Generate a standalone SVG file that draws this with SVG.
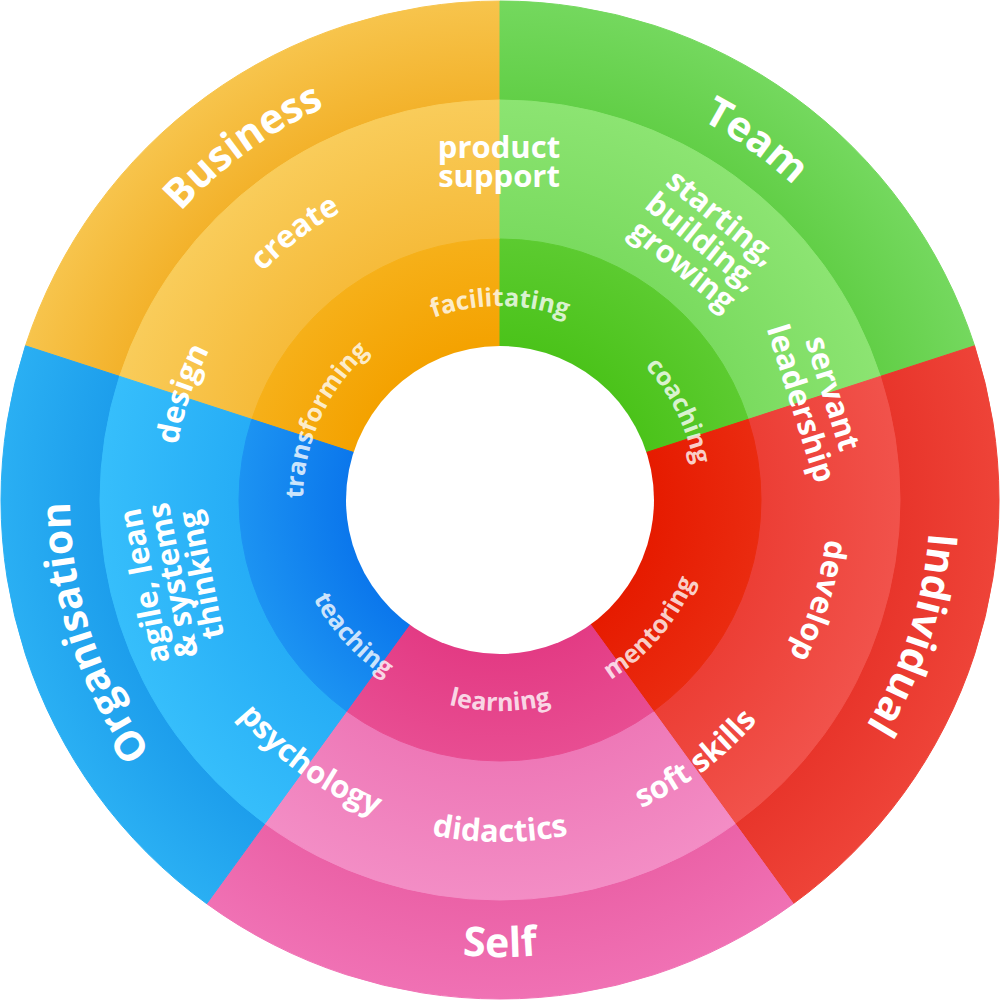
<svg xmlns="http://www.w3.org/2000/svg" width="1000" height="1000" viewBox="0 0 1000 1000">
<defs>
<style>
.o{font-family:"Open Sans","Liberation Sans",sans-serif;font-weight:700;font-size:41px;fill:#fff;text-anchor:middle}
.m{font-family:"Open Sans","Liberation Sans",sans-serif;font-weight:700;font-size:31px;fill:#fff;text-anchor:middle}
.i{font-family:"Open Sans","Liberation Sans",sans-serif;font-weight:700;font-size:25px;fill:#fff;fill-opacity:.8;text-anchor:middle}
</style>
<radialGradient id="bo" gradientUnits="userSpaceOnUse" cx="500" cy="500" r="499"><stop offset=".8016" stop-color="#F3B22B"/><stop offset="1" stop-color="#F7C44C"/></radialGradient>
<radialGradient id="bm" gradientUnits="userSpaceOnUse" cx="500" cy="500" r="499"><stop offset=".523" stop-color="#F6BB3A"/><stop offset=".8016" stop-color="#F9CC5A"/></radialGradient>
<radialGradient id="bi" gradientUnits="userSpaceOnUse" cx="500" cy="500" r="499"><stop offset=".3086" stop-color="#F4A200"/><stop offset=".523" stop-color="#F6B019"/></radialGradient>
<radialGradient id="to" gradientUnits="userSpaceOnUse" cx="500" cy="500" r="499"><stop offset=".8016" stop-color="#62CF47"/><stop offset="1" stop-color="#74D85E"/></radialGradient>
<radialGradient id="tm" gradientUnits="userSpaceOnUse" cx="500" cy="500" r="499"><stop offset=".523" stop-color="#7ADB5F"/><stop offset=".8016" stop-color="#8CE472"/></radialGradient>
<radialGradient id="ti" gradientUnits="userSpaceOnUse" cx="500" cy="500" r="499"><stop offset=".3086" stop-color="#4BC31A"/><stop offset=".523" stop-color="#5CCB30"/></radialGradient>
<radialGradient id="io" gradientUnits="userSpaceOnUse" cx="500" cy="500" r="499"><stop offset=".8016" stop-color="#E8352B"/><stop offset="1" stop-color="#EE4338"/></radialGradient>
<radialGradient id="im" gradientUnits="userSpaceOnUse" cx="500" cy="500" r="499"><stop offset=".523" stop-color="#EC3E35"/><stop offset=".8016" stop-color="#F1524B"/></radialGradient>
<radialGradient id="ii" gradientUnits="userSpaceOnUse" cx="500" cy="500" r="499"><stop offset=".3086" stop-color="#E61B00"/><stop offset=".523" stop-color="#EA2B10"/></radialGradient>
<radialGradient id="so" gradientUnits="userSpaceOnUse" cx="500" cy="500" r="499"><stop offset=".8016" stop-color="#EB62A7"/><stop offset="1" stop-color="#F071B4"/></radialGradient>
<radialGradient id="sm" gradientUnits="userSpaceOnUse" cx="500" cy="500" r="499"><stop offset=".523" stop-color="#EE78B7"/><stop offset=".8016" stop-color="#F38DC5"/></radialGradient>
<radialGradient id="si" gradientUnits="userSpaceOnUse" cx="500" cy="500" r="499"><stop offset=".3086" stop-color="#E33B84"/><stop offset=".523" stop-color="#E84D92"/></radialGradient>
<radialGradient id="go" gradientUnits="userSpaceOnUse" cx="500" cy="500" r="499"><stop offset=".8016" stop-color="#1D9EEC"/><stop offset="1" stop-color="#2AAFF3"/></radialGradient>
<radialGradient id="gm" gradientUnits="userSpaceOnUse" cx="500" cy="500" r="499"><stop offset=".523" stop-color="#26ADF6"/><stop offset=".8016" stop-color="#36BEFB"/></radialGradient>
<radialGradient id="gi" gradientUnits="userSpaceOnUse" cx="500" cy="500" r="499"><stop offset=".3086" stop-color="#0B77EC"/><stop offset=".523" stop-color="#1C93F2"/></radialGradient>
<path id="pBusiness" d="M71.05,470.0 A430,430 0 0 1 604.03,82.77"/>
<path id="pTeam" d="M392.34,83.70 A430,430 0 0 1 928.67,466.26"/>
<path id="pIndividual" d="M864.66,272.14 A430,430 0 0 1 661.08,898.69"/>
<path id="pSelf" d="M149.92,793.75 A457,457 0 0 0 850.08,793.75"/>
<path id="pOrg" d="M338.92,898.69 A430,430 0 0 1 135.34,272.14"/>
<path id="pCreate" d="M171.31,485.65 A329,329 0 0 1 571.21,178.80"/>
<path id="pDesign" d="M221.19,670.86 A327,327 0 0 1 380.15,195.75"/>
<path id="pDevelop" d="M776.63,323.77 A328,328 0 0 1 625.52,803.03"/>
<path id="pSoft" d="M423.74,830.31 A339,339 0 0 0 838.54,517.74"/>
<path id="pDidactics" d="M238.01,719.83 A342,342 0 0 0 761.99,719.83"/>
<path id="pPsych" d="M161.83,523.65 A339,339 0 0 0 582.01,828.93"/>
<path id="pFac" d="M351.39,375.30 A194,194 0 0 1 648.61,375.30"/>
<path id="pCoach" d="M545.99,308.44 A197,197 0 0 1 680.66,578.55"/>
<path id="pMentor" d="M498.16,710.99 A211,211 0 0 0 708.11,465.17"/>
<path id="pLearn" d="M338.36,635.63 A211,211 0 0 0 661.64,635.63"/>
<path id="pTeach" d="M290.81,472.46 A211,211 0 0 0 509.20,710.80"/>
<path id="pTrans" d="M322.19,584.81 A197,197 0 0 1 447.35,310.16"/>
</defs>
<rect width="1000" height="1000" fill="#fff"/>

<g id="business">
<path d="M500,500 L25.42,345.80 A499,499 0 0 1 500,1 Z" fill="url(#bo)" stroke="url(#bo)"/>
</g>
<g id="team">
<path d="M500,500 L500,1 A499,499 0 0 1 974.58,345.80 Z" fill="url(#to)" stroke="url(#to)"/>
</g>
<g id="individual">
<path d="M500,500 L974.58,345.80 A499,499 0 0 1 793.31,903.70 Z" fill="url(#io)" stroke="url(#io)"/>
</g>
<g id="self">
<path d="M500,500 L793.31,903.70 A499,499 0 0 1 206.69,903.70 Z" fill="url(#so)" stroke="url(#so)"/>
</g>
<g id="organisation">
<path d="M500,500 L206.69,903.70 A499,499 0 0 1 25.42,345.80 Z" fill="url(#go)" stroke="url(#go)"/>
</g>

<g id="middle-ring">
<path d="M500,500 L119.58,376.39 A400,400 0 0 1 500,100 Z" fill="url(#bm)" stroke="url(#bm)"/>
<path d="M500,500 L500,100 A400,400 0 0 1 880.42,376.39 Z" fill="url(#tm)" stroke="url(#tm)"/>
<path d="M500,500 L880.42,376.39 A400,400 0 0 1 735.11,823.61 Z" fill="url(#im)" stroke="url(#im)"/>
<path d="M500,500 L735.11,823.61 A400,400 0 0 1 264.89,823.61 Z" fill="url(#sm)" stroke="url(#sm)"/>
<path d="M500,500 L264.89,823.61 A400,400 0 0 1 119.58,376.39 Z" fill="url(#gm)" stroke="url(#gm)"/>
</g>
<g id="inner-ring">
<path d="M500,500 L251.77,419.35 A261,261 0 0 1 500,239 Z" fill="url(#bi)" stroke="url(#bi)"/>
<path d="M500,500 L500,239 A261,261 0 0 1 748.23,419.35 Z" fill="url(#ti)" stroke="url(#ti)"/>
<path d="M500,500 L748.23,419.35 A261,261 0 0 1 653.41,711.15 Z" fill="url(#ii)" stroke="url(#ii)"/>
<path d="M500,500 L653.41,711.15 A261,261 0 0 1 346.59,711.15 Z" fill="url(#si)" stroke="url(#si)"/>
<path d="M500,500 L346.59,711.15 A261,261 0 0 1 251.77,419.35 Z" fill="url(#gi)" stroke="url(#gi)"/>
</g>
<circle id="hub" cx="500" cy="500" r="154" fill="#fff"/>

<g id="outer-labels">
<text class="o"><textPath href="#pBusiness" startOffset="50%">Business</textPath></text>
<text class="o"><textPath href="#pTeam" startOffset="50%">Team</textPath></text>
<text class="o"><textPath href="#pIndividual" startOffset="50%">Individual</textPath></text>
<text class="o"><textPath href="#pSelf" startOffset="50%">Self</textPath></text>
<text class="o"><textPath href="#pOrg" startOffset="50%">Organisation</textPath></text>
</g>

<g id="middle-labels">
<text class="m" x="499" y="158">product<tspan x="499" dy="29">support</tspan></text>
<text class="m"><textPath href="#pCreate" startOffset="50%">create</textPath></text>
<text class="m"><textPath href="#pDesign" startOffset="50%">design</textPath></text>
<text class="m" transform="translate(701,243) rotate(39)" x="0" y="-22.5">starting,<tspan x="0" dy="31">building,</tspan><tspan x="0" dy="31">growing</tspan></text>
<text class="m" transform="translate(815,399) rotate(72.5)" x="0" y="-8">servant<tspan x="0" dy="33">leadership</tspan></text>
<text class="m"><textPath href="#pDevelop" startOffset="50%">develop</textPath></text>
<text class="m"><textPath href="#pSoft" startOffset="50%">soft skills</textPath></text>
<text class="m"><textPath href="#pDidactics" startOffset="50%">didactics</textPath></text>
<text class="m"><textPath href="#pPsych" startOffset="50%">psychology</textPath></text>
<text class="m" transform="translate(175,580) rotate(-101)" x="0" y="-20.6">agile, lean<tspan x="0" dy="29">&amp; systems</tspan><tspan x="0" dy="29">thinking</tspan></text>
</g>

<g id="inner-labels">
<text class="i"><textPath href="#pFac" startOffset="50%">facilitating</textPath></text>
<text class="i"><textPath href="#pCoach" startOffset="50%">coaching</textPath></text>
<text class="i"><textPath href="#pMentor" startOffset="50%">mentoring</textPath></text>
<text class="i"><textPath href="#pLearn" startOffset="50%">learning</textPath></text>
<text class="i"><textPath href="#pTeach" startOffset="50%">teaching</textPath></text>
<text class="i"><textPath href="#pTrans" startOffset="50%">transforming</textPath></text>
</g>
</svg>
